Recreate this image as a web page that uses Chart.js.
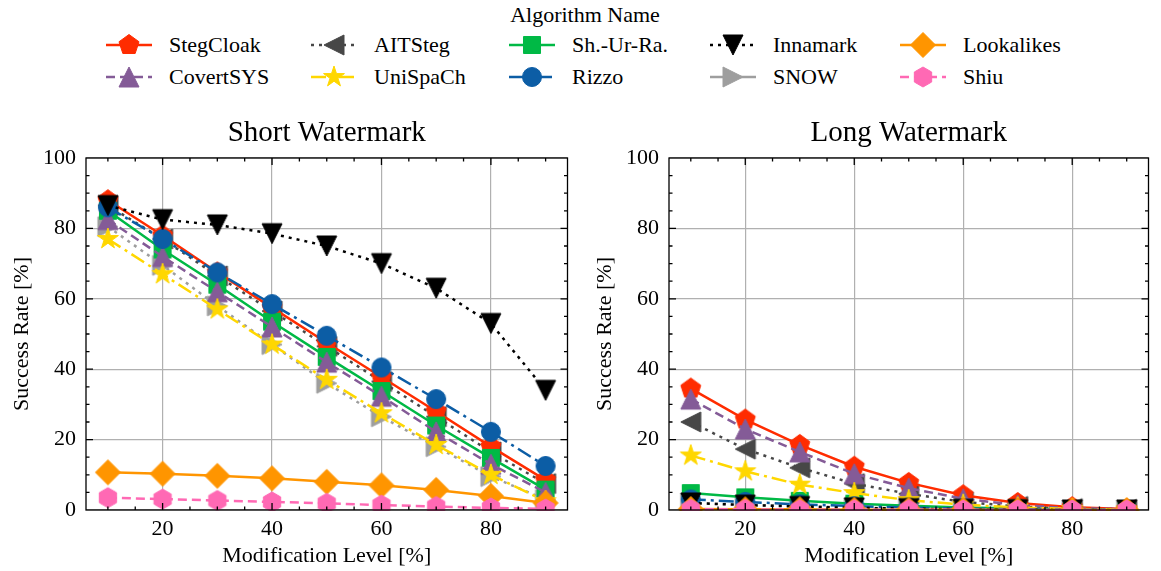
<!DOCTYPE html>
<html>
<head>
<meta charset="utf-8">
<script src="https://cdn.jsdelivr.net/npm/chart.js@4.4.1/dist/chart.umd.min.js"></script>
<style>
  body { margin: 0; width: 1161px; height: 571px; background: #fff; position: relative; overflow: hidden;
         font-family: "Liberation Serif", "DejaVu Serif", serif; color: #000; }
  #legendTitle { position: absolute; left: 485px; top: 2px; width: 200px; text-align: center; font-size: 22px; line-height: 26px; }
  .item { position: absolute; height: 26px; display: flex; align-items: center; font-size: 22px; white-space: nowrap; }
  .item canvas { margin-right: 17px; }
  #shortChart { position: absolute; left: 0; top: 100px; }
  #longChart { position: absolute; left: 583px; top: 100px; }
</style>
</head>
<body>
<div id="legendTitle">Algorithm Name</div>
<div id="legend"></div>
<canvas id="shortChart" width="580" height="471"></canvas>
<canvas id="longChart" width="578" height="471"></canvas>
<script>
// x values (modification level in %)
const modLevels = [10, 20, 30, 40, 50, 60, 70, 80, 90];
const xTickLabels = [20, 40, 60, 80];
const yTickLabels = [0, 20, 40, 60, 80, 100];

const algorithms = ["StegCloak", "CovertSYS", "AITSteg", "UniSpaCh", "Sh.-Ur-Ra.",
                    "Rizzo", "Innamark", "SNOW", "Lookalikes", "Shiu"];

// Short watermark success rates [%]
const shortStegCloak  = [88, 78, 67.5, 57.5, 47.5, 37.8, 28, 18, 8.5];
const shortCovertSYS  = [82.5, 72, 62, 52, 42, 32.3, 22.2, 13, 5];
const shortAITSteg    = [86.5, 77, 66.5, 56.5, 46.5, 36.5, 26.5, 16.5, 7.5];
const shortUniSpaCh   = [77, 67, 57, 47, 37, 27.5, 18.5, 10, 2.5];
const shortShUrRa     = [85, 74, 64, 53.5, 43.5, 33.8, 24, 14.8, 5.8];
const shortRizzo      = [86, 77, 67.5, 58.5, 49.5, 40.5, 31.5, 22.2, 12.5];
const shortInnamark   = [86.5, 82.5, 81, 78.5, 75, 70, 63, 53, 34];
const shortSNOW       = [80.5, 69.5, 58, 47, 36, 26.5, 18, 9.5, 3];
const shortLookalikes = [10.7, 10.3, 9.7, 9, 8, 7, 5.7, 4, 2];
const shortShiu       = [3.5, 3.1, 2.7, 2.3, 1.9, 1.4, 1, 0.6, 0.3];

// Long watermark success rates [%]
const longStegCloak  = [34.5, 25.7, 18.5, 12.3, 7.7, 4.2, 2, 0.8, 0.3];
const longCovertSYS  = [31.5, 23, 16.5, 10.3, 6.2, 3.2, 1.4, 0.5, 0.2];
const longAITSteg    = [25, 17.3, 12, 7.5, 4.6, 2.3, 1, 0.4, 0.2];
const longUniSpaCh   = [15.5, 11, 7.2, 4.8, 2.8, 1.5, 0.7, 0.3, 0.1];
const longShUrRa     = [4.8, 3.6, 2.6, 1.8, 1.2, 0.7, 0.4, 0.2, 0.1];
const longRizzo      = [3, 2.3, 1.6, 1.1, 0.7, 0.4, 0.2, 0.1, 0];
const longInnamark   = [2, 1.4, 1, 0.6, 0.4, 0.2, 0.1, 0, 0];
const longSNOW       = [2, 1.5, 1.1, 0.7, 0.4, 0.2, 0.1, 0, 0];
const longLookalikes = [0.3, 0.2, 0.2, 0.1, 0.1, 0.1, 0, 0, 0];
const longShiu       = [0.2, 0.2, 0.1, 0.1, 0.1, 0, 0, 0, 0];

const shortSeries = [shortStegCloak, shortCovertSYS, shortAITSteg, shortUniSpaCh, shortShUrRa,
                     shortRizzo, shortInnamark, shortSNOW, shortLookalikes, shortShiu];
const longSeries = [longStegCloak, longCovertSYS, longAITSteg, longUniSpaCh, longShUrRa,
                    longRizzo, longInnamark, longSNOW, longLookalikes, longShiu];

// styles
const colors  = ["#FF2C00", "#845B97", "#474747", "#FFD700", "#00B945",
                 "#0C5DA5", "#000000", "#9e9e9e", "#FF9500", "#FF69B4"];
const markers = ["pentagon", "triUp", "triLeft", "star", "square",
                 "circle", "triDown", "triRight", "diamond", "hexagon"];
const dashes  = [[], [9, 5], [3, 5], [15, 5, 3, 5], [], [15, 5, 3, 5], [3, 5], [3, 5], [], [9, 5]];
const legendDashes = [[], [9, 5], [3, 5], [15, 5, 3, 5], [], [15, 5, 3, 5], [3, 5], [], [], [9, 5]];
// higher = drawn first (underneath)
const drawOrder = [8, 6, 9, 5, 7, 4, 3, 10, 2, 1];

const FONT = '"Liberation Serif", "DejaVu Serif", serif';

function regular(ctx, x, y, n, r, start, inner) {
  const pts = inner ? n * 2 : n;
  for (let k = 0; k < pts; k++) {
    const a = start + k * 2 * Math.PI / pts;
    const rr = inner && k % 2 ? r * inner : r;
    const px = x + rr * Math.cos(a), py = y + rr * Math.sin(a);
    if (k === 0) ctx.moveTo(px, py); else ctx.lineTo(px, py);
  }
  ctx.closePath();
}

function drawMarker(ctx, shape, x, y, color) {
  ctx.save();
  ctx.setLineDash([]);
  ctx.fillStyle = color;
  ctx.strokeStyle = color;
  ctx.lineWidth = 1;
  ctx.beginPath();
  const r = 10;
  const up = -Math.PI / 2;
  if (shape === "circle") ctx.arc(x, y, 9.5, 0, Math.PI * 2);
  else if (shape === "square") ctx.rect(x - 8.5, y - 8.5, 17, 17);
  else if (shape === "diamond") regular(ctx, x, y, 4, 12.5, up);
  else if (shape === "pentagon") regular(ctx, x, y, 5, 10.5, up);
  else if (shape === "hexagon") regular(ctx, x, y, 6, 10, up);
  else if (shape === "star") regular(ctx, x, y, 5, 11, up, 0.382);
  else {
    let v = [[0, -r], [-r, r], [r, r]];
    if (shape === "triDown") v = [[0, r], [-r, -r], [r, -r]];
    if (shape === "triLeft") v = [[-r, 0], [r, -r], [r, r]];
    if (shape === "triRight") v = [[r, 0], [-r, -r], [-r, r]];
    ctx.moveTo(x + v[0][0], y + v[0][1]);
    ctx.lineTo(x + v[1][0], y + v[1][1]);
    ctx.lineTo(x + v[2][0], y + v[2][1]);
    ctx.closePath();
  }
  ctx.fill();
  ctx.stroke();
  ctx.restore();
}

function markerCanvas(shape, color) {
  const c = document.createElement("canvas");
  c.width = 32; c.height = 32;
  drawMarker(c.getContext("2d"), shape, 16, 16, color);
  return c;
}

// LEGEND (html)
const legendTextLeft = [169, 374, 572, 773, 963];
const legendRowY = [45, 77];
const legend = document.getElementById("legend");
algorithms.forEach((name, i) => {
  const col = Math.floor(i / 2), row = i % 2;
  const item = document.createElement("div");
  item.className = "item";
  item.style.left = (legendTextLeft[col] - 63) + "px";
  item.style.top = (legendRowY[row] - 13) + "px";
  const c = document.createElement("canvas");
  c.width = 46; c.height = 26;
  const ctx = c.getContext("2d");
  ctx.strokeStyle = colors[i];
  ctx.lineWidth = 2.5;
  ctx.setLineDash(legendDashes[i]);
  ctx.beginPath();
  ctx.moveTo(0, 13); ctx.lineTo(46, 13);
  ctx.stroke();
  drawMarker(ctx, markers[i], 23, 13, colors[i]);
  item.appendChild(c);
  const span = document.createElement("span");
  span.textContent = name;
  item.appendChild(span);
  legend.appendChild(item);
});

// frame + inward ticks on all sides, title centred over the plot area
const frameTicks = {
  id: "frameTicks",
  afterDraw(chart, args, opts) {
    const { ctx, chartArea: a, scales } = chart;
    ctx.save();
    ctx.fillStyle = "#000";
    ctx.font = "29px " + FONT;
    ctx.textAlign = "center";
    ctx.textBaseline = "middle";
    ctx.fillText(opts.title, (a.left + a.right) / 2, 33);

    ctx.strokeStyle = "#000";
    ctx.lineWidth = 1.3;
    ctx.setLineDash([]);
    ctx.strokeRect(a.left, a.top, a.right - a.left, a.bottom - a.top);
    ctx.beginPath();
    for (let v = 10; v <= 90; v += 5) {
      const px = scales.x.getPixelForValue(v);
      const len = xTickLabels.includes(v) ? 7 : 3.5;
      ctx.moveTo(px, a.bottom); ctx.lineTo(px, a.bottom - len);
      ctx.moveTo(px, a.top); ctx.lineTo(px, a.top + len);
    }
    for (let v = 5; v < 100; v += 5) {
      const py = scales.y.getPixelForValue(v);
      const len = yTickLabels.includes(v) ? 7 : 3.5;
      ctx.moveTo(a.left, py); ctx.lineTo(a.left + len, py);
      ctx.moveTo(a.right, py); ctx.lineTo(a.right - len, py);
    }
    ctx.stroke();
    ctx.restore();
  }
};

function buildChart(id, title, series) {
  const font = { family: FONT, size: 22 };
  return new Chart(document.getElementById(id), {
    type: "line",
    data: {
      datasets: algorithms.map((name, i) => ({
        label: name,
        data: modLevels.map((m, j) => ({ x: m, y: series[i][j] })),
        borderColor: colors[i],
        backgroundColor: colors[i],
        borderWidth: 2.5,
        borderDash: dashes[i],
        pointStyle: markerCanvas(markers[i], colors[i]),
        pointRadius: 10,
        tension: 0,
        clip: 1,
        order: drawOrder[i]
      }))
    },
    options: {
      responsive: false,
      animation: false,
      devicePixelRatio: 1,
      layout: { padding: { top: 58, right: 8 } },
      plugins: {
        legend: { display: false },
        tooltip: { enabled: false },
        title: { display: false },
        frameTicks: { title }
      },
      scales: {
        x: {
          type: "linear", min: 6, max: 94,
          afterBuildTicks: s => { s.ticks = xTickLabels.map(v => ({ value: v })); },
          afterFit: s => { s.height = 61; },
          grid: { color: "#b0b0b0", lineWidth: 1.2, drawTicks: false },
          border: { display: false },
          ticks: { color: "#000", font, padding: 6, maxRotation: 0 },
          title: { display: true, text: "Modification Level [%]", color: "#000", font, padding: { top: 0, bottom: 2 } }
        },
        y: {
          min: 0, max: 100,
          afterBuildTicks: s => { s.ticks = yTickLabels.map(v => ({ value: v })); },
          afterFit: s => { s.width = 86; },
          grid: { color: "#b0b0b0", lineWidth: 1.2, drawTicks: false },
          border: { display: false },
          ticks: { color: "#000", font, padding: 10 },
          title: { display: true, text: "Success Rate [%]", color: "#000", font, padding: { top: 9, bottom: 0 } }
        }
      }
    },
    plugins: [frameTicks]
  });
}

buildChart("shortChart", "Short Watermark", shortSeries);
buildChart("longChart", "Long Watermark", longSeries);
</script>
</body>
</html>
